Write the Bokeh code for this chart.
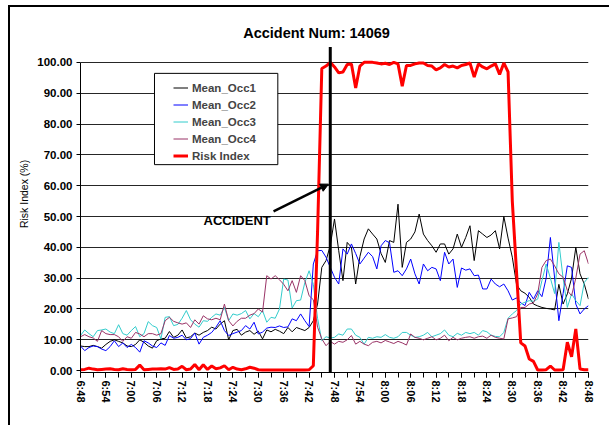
import math
from bokeh.plotting import figure
from bokeh.models import (FixedTicker, NumeralTickFormatter, Label, Arrow, NormalHead,
                          BoxAnnotation, Legend, LegendItem, ColumnDataSource)
from bokeh.embed import file_html
from bokeh.resources import INLINE

# minutes after 6:48 (one sample per minute, 6:48 .. 8:48)
minutes = list(range(121))
x_tick_pos = list(range(0, 121, 6))
x_tick_labels = ["6:48", "6:54", "7:00", "7:06", "7:12", "7:18", "7:24", "7:30", "7:36", "7:42",
                 "7:48", "7:54", "8:00", "8:06", "8:12", "8:18", "8:24", "8:30", "8:36", "8:42", "8:48"]
y_ticks = list(range(0, 101, 10))
accident_minute = 59

mean_occ1 = [
    8.0, 7.8, 7.8, 8.2, 7.8, 7.3, 8.5, 9.5, 10.0, 9.5,
    9.0, 8.0, 7.8, 8.5, 10.0, 9.2, 8.0, 7.3, 9.7, 10.3,
    10.5, 12.7, 10.8, 11.5, 13.2, 10.6, 11.0, 12.2, 11.5, 12.4,
    13.0, 14.1, 13.5, 15.1, 16.2, 10.0, 13.0, 13.4, 11.5, 12.5,
    13.0, 11.8, 12.8, 10.3, 13.2, 12.6, 13.4, 12.8, 12.0, 14.0,
    12.6, 14.0, 13.5, 13.0, 14.0, 16.2, 21.6, 33.5, 35.7, 40.6,
    49.2, 38.9, 29.2, 41.6, 40.0, 28.1, 37.0, 42.7, 46.0, 44.3,
    42.7, 38.0, 35.1, 42.2, 41.6, 54.0, 33.5, 41.6, 42.7, 45.0,
    50.8, 44.3, 42.2, 40.5, 38.4, 41.1, 41.1, 37.8, 39.5, 44.3,
    40.0, 43.2, 47.0, 35.7, 45.4, 44.3, 43.2, 44.0, 45.4, 39.5,
    50.0, 43.0, 36.8, 28.0, 25.9, 25.1, 23.8, 21.6, 21.0, 20.5,
    20.2, 20.0, 19.7, 28.0, 21.6, 24.9, 30.0, 40.0, 31.4, 28.1, 23.2]

mean_occ2 = [
    8.0, 6.5, 7.5, 8.0, 7.8, 7.0, 6.5, 7.8, 9.7, 7.8,
    9.0, 7.5, 8.5, 7.5, 6.0, 9.7, 9.0, 8.0, 7.5, 9.0,
    8.2, 11.4, 10.5, 10.8, 11.5, 10.0, 10.4, 12.2, 8.6, 10.8,
    11.5, 12.4, 14.1, 16.2, 13.0, 11.4, 12.0, 12.5, 13.0, 14.6,
    13.5, 15.7, 11.9, 12.5, 13.8, 14.1, 14.0, 14.5, 14.0, 14.2,
    16.8, 16.2, 18.4, 16.2, 14.3, 34.6, 38.9, 39.0, 36.8, 33.5,
    30.3, 28.1, 39.5, 37.8, 41.1, 38.0, 34.6, 36.5, 38.4, 37.0,
    33.0, 40.5, 42.2, 41.5, 31.9, 32.4, 30.8, 33.0, 36.2, 31.4,
    28.1, 34.6, 32.4, 33.5, 33.0, 29.2, 38.4, 34.6, 36.2, 27.0,
    33.3, 32.6, 33.0, 30.8, 31.0, 26.5, 26.5, 29.7, 28.1, 27.2,
    28.1, 25.9, 22.9, 23.6, 22.0, 21.1, 25.4, 23.2, 25.9, 24.0,
    30.0, 43.2, 30.0, 16.2, 25.0, 34.0, 33.5, 21.6, 18.4, 20.0, 21.1]

mean_occ3 = [
    11.4, 13.2, 12.0, 11.0, 13.0, 13.2, 13.5, 12.5, 12.0, 14.9,
    12.0, 11.5, 13.0, 14.3, 11.0, 12.0, 15.9, 14.6, 14.0, 10.3,
    17.3, 17.5, 14.6, 15.0, 17.0, 19.5, 16.5, 15.1, 14.1, 16.2,
    16.0, 17.3, 18.4, 18.0, 20.5, 16.2, 18.4, 18.0, 18.5, 19.5,
    16.8, 18.5, 17.5, 19.5, 15.7, 17.3, 17.0, 20.0, 29.7, 29.4,
    20.3, 22.7, 22.9, 28.6, 32.4, 28.0, 17.0, 9.7, 11.0, 10.6,
    10.8, 11.9, 11.5, 13.5, 13.5, 11.5, 10.8, 8.6, 10.8, 10.5,
    11.0, 10.8, 11.7, 10.8, 10.5, 11.0, 12.4, 12.4, 11.5, 10.8,
    11.0, 11.5, 12.4, 11.0, 11.5, 12.0, 13.2, 11.5, 11.0, 12.1,
    11.5, 12.4, 12.0, 12.4, 11.5, 13.0, 12.6, 11.5, 11.1, 11.0,
    12.4, 17.0, 18.4, 19.5, 21.6, 22.2, 22.7, 22.5, 23.2, 29.2,
    34.6, 30.0, 25.0, 41.6, 30.0, 20.5, 24.9, 22.7, 21.1, 28.6, 30.3]

mean_occ4 = [
    11.0, 11.7, 11.0, 10.6, 9.5, 13.0, 12.0, 11.7, 11.7, 11.0,
    9.5, 11.0, 10.5, 12.4, 11.9, 11.0, 12.0, 12.0, 11.5, 12.0,
    16.2, 17.3, 16.0, 15.5, 15.1, 15.5, 14.0, 16.5, 15.1, 17.8,
    16.8, 16.5, 17.0, 16.5, 21.6, 16.2, 14.5, 16.0, 17.0, 17.0,
    18.0, 18.5, 20.0, 19.0, 30.8, 29.7, 30.8, 29.5, 28.0, 25.9,
    29.2, 25.4, 30.8, 29.2, 24.3, 23.0, 14.1, 10.3, 8.1, 9.5,
    8.6, 9.5, 9.2, 10.0, 11.4, 8.6, 9.5, 8.6, 8.1, 9.2,
    9.5, 9.0, 9.8, 9.3, 8.8, 9.5, 9.0, 8.3, 11.9, 10.8,
    10.5, 10.0, 10.5, 11.0, 10.0, 10.5, 11.5, 9.7, 10.8, 10.0,
    10.5, 10.8, 11.0, 10.5, 11.0, 11.2, 10.5, 11.5, 10.8, 10.5,
    10.3, 16.8, 17.1, 17.5, 20.5, 20.5, 21.6, 22.0, 24.9, 33.5,
    35.7, 36.2, 34.0, 31.4, 30.3, 26.0, 24.3, 30.0, 37.8, 38.9, 34.6]

risk_index = [
    0.3, 0.4, 0.8, 0.5, 0.3, 0.4, 0.5, 0.6, 0.4, 0.3,
    0.6, 0.4, 0.3, 0.4, 1.8, 0.3, 0.4, 0.5, 0.5, 0.6,
    0.5, 1.0, 0.4, 0.5, 1.4, 0.3, 0.5, 2.0, 0.3, 1.9,
    0.4, 1.5, 0.6, 0.9, 1.6, 0.3, 1.1, 0.5, 0.3, 0.6,
    1.1, 0.8, 0.3, 0.2, 0.2, 0.2, 0.2, 0.2, 0.2, 0.2,
    0.2, 0.2, 0.2, 0.2, 0.3, 1.6, 45.0, 98.0, 98.8, 100.0,
    98.5, 96.6, 96.9, 99.3, 99.5, 91.7, 98.8, 100.0, 100.0, 100.0,
    99.8, 99.5, 99.7, 99.3, 100.0, 99.5, 92.3, 99.0, 99.0, 99.5,
    99.8, 99.8, 99.0, 98.8, 97.6, 98.2, 99.3, 98.5, 98.8, 98.2,
    99.0, 99.3, 99.8, 95.2, 99.5, 98.5, 97.9, 98.8, 99.5, 96.1,
    99.8, 96.9, 55.0, 32.0, 9.0, 8.0, 3.8, 3.0, 0.2, 0.2,
    0.3, 1.5, 0.2, 0.2, 0.3, 9.2, 4.5, 13.5, 0.5, 0.3, 0.3]

FONT = "Liberation Sans"

src = ColumnDataSource(dict(t=minutes, occ1=mean_occ1, occ2=mean_occ2, occ3=mean_occ3,
                            occ4=mean_occ4, risk=risk_index))

# frame extends above 100 so that the title and the accident marker stay inside it
p = figure(width=601, height=420, x_range=(0, 120), y_range=(-0.6, 115.2),
           output_backend="svg", toolbar_location=None,
           min_border_left=70, min_border_right=23, min_border_top=8, min_border_bottom=55)
p.styles = {"margin-left": "8px", "margin-top": "5px",
            "border-left": "2px solid black", "border-top": "2px solid black"}
p.outline_line_color = None
p.background_fill_color = "white"
p.border_fill_color = "white"

p.xgrid.visible = False
p.ygrid.ticker = FixedTicker(ticks=y_ticks[1:])
p.ygrid.grid_line_color = "black"
p.ygrid.grid_line_alpha = 0.85
p.ygrid.grid_line_width = 1

xa = p.xaxis[0]
xa.ticker = FixedTicker(ticks=x_tick_pos, minor_ticks=list(range(0, 121, 3)))
xa.major_label_overrides = {t: lab for t, lab in zip(x_tick_pos, x_tick_labels)}
xa.major_label_orientation = -math.pi / 2
xa.major_tick_out = 5
xa.major_tick_in = 0
xa.minor_tick_out = 5
xa.minor_tick_in = 0
xa.major_label_standoff = 3
xa.major_label_text_font = FONT
xa.major_label_text_font_style = "bold"
xa.major_label_text_font_size = "11px"
xa.major_label_text_color = "black"
xa.axis_line_color = "black"
xa.major_tick_line_color = "black"
xa.minor_tick_line_color = "black"

ya = p.yaxis[0]
ya.ticker = FixedTicker(ticks=y_ticks)
ya.formatter = NumeralTickFormatter(format="0.00")
ya.bounds = (-0.6, 100)
ya.major_tick_out = 4
ya.major_tick_in = 0
ya.minor_tick_line_color = None
ya.major_label_standoff = 4
ya.major_label_text_font = FONT
ya.major_label_text_font_style = "bold"
ya.major_label_text_font_size = "11.5px"
ya.major_label_text_color = "black"
ya.axis_label = "Risk Index (%)"
ya.axis_label_text_font = FONT
ya.axis_label_text_font_style = "normal"
ya.axis_label_text_font_size = "10.5px"
ya.axis_label_text_color = "black"
ya.axis_label_standoff = 4
ya.axis_line_color = "black"
ya.major_tick_line_color = "black"

r1 = p.line("t", "occ1", source=src, line_color="black", line_width=1)
r2 = p.line("t", "occ2", source=src, line_color="#0000FF", line_width=1)
r3 = p.line("t", "occ3", source=src, line_color="#33CCCC", line_width=1)
r4 = p.line("t", "occ4", source=src, line_color="#993366", line_width=1)
r5 = p.line("t", "risk", source=src, line_color="#FF0000", line_width=3)

# accident marker line
p.segment(x0=[accident_minute], y0=[-0.6], x1=[accident_minute], y1=[105.0],
          line_color="black", line_width=3)
p.add_layout(Arrow(end=NormalHead(size=8, fill_color="black", line_color="black"),
                   x_start=45.6, y_start=51.7, x_end=58.6, y_end=60.5,
                   line_color="black", line_width=2.5))
p.add_layout(Label(x=37.0, y=48.8, text="ACCIDENT", text_align="center", text_baseline="middle",
                   text_font=FONT, text_font_style="bold", text_font_size="13px", text_color="black"))
p.add_layout(Label(x=55.75, y=109.6, text="Accident Num: 14069", text_align="center",
                   text_baseline="middle", text_font=FONT, text_font_style="bold",
                   text_font_size="14.5px", text_color="black"))

# legend box
p.add_layout(BoxAnnotation(left=17.48, right=46.61, top=96.43, bottom=66.82,
                           fill_color="white", fill_alpha=1.0, line_color="black",
                           line_width=1, line_alpha=1.0))
legend = Legend(items=[LegendItem(label="Mean_Occ1", renderers=[r1]),
                       LegendItem(label="Mean_Occ2", renderers=[r2]),
                       LegendItem(label="Mean_Occ3", renderers=[r3]),
                       LegendItem(label="Mean_Occ4", renderers=[r4]),
                       LegendItem(label="Risk Index", renderers=[r5])],
                location=(93, 208), border_line_color=None, background_fill_color=None,
                padding=3, spacing=0, margin=0, glyph_width=15, glyph_height=17, label_height=17,
                label_standoff=4, label_text_font=FONT, label_text_font_style="bold",
                label_text_font_size="11.5px", level="overlay")
p.add_layout(legend)

open("out.html", "w").write(file_html(p, INLINE))
